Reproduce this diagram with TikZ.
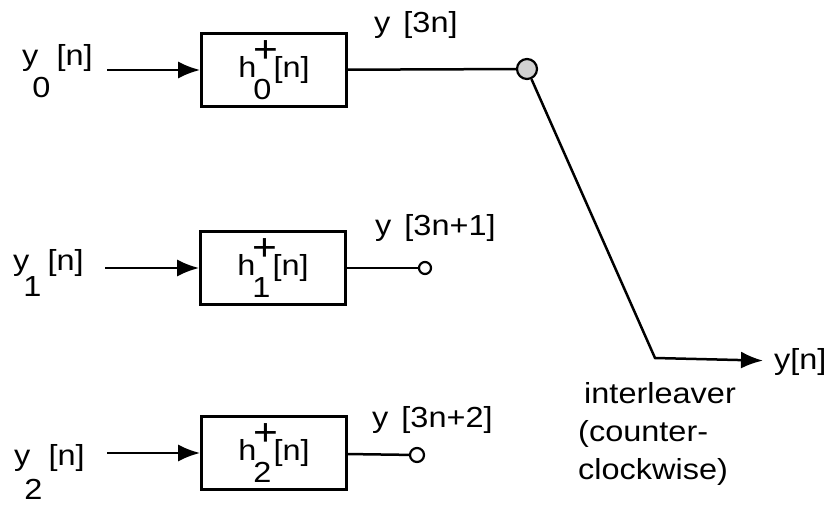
\documentclass[tikz,border=0pt]{standalone}
\usepackage{fontspec}
\newfontfamily\labfont{Liberation Sans}[FakeStretch=1.12]
\usetikzlibrary{arrows.meta,positioning,calc}

% 入力ラベル y_k[n] と フィルタ h^+_k[n]
\newcommand{\ylab}[2]{y\kern-6pt\raisebox{-#2}{#1}\kern6pt[n]}
\newcommand{\hlab}[1]{h\kern-3pt\rlap{\raisebox{15pt}{\fontsize{38}{38}\selectfont+}}\raisebox{-22pt}{#1}\kern2pt[n]}

\begin{document}
\begin{tikzpicture}[x=1pt,y=-1pt,
  lab/.style={font=\labfont\fontsize{29}{38}\selectfont,inner sep=0pt},
  filt/.style={draw,line width=2.7pt,minimum width=145pt,minimum height=73pt,inner sep=0pt,lab},
  tap/.style={circle,draw,line width=2.2pt,fill=white,inner sep=0pt,minimum size=12pt},
  sig/.style={line width=2.5pt},
  arr/.style={sig,-{Latex[length=22pt,width=17pt]}}]
  \path[fill=white] (0,0) rectangle (832,508);
  % 上段：y_0[n]
  \node[filt] (box0) at (274,70) {\hlab{0}};
  \node[lab,anchor=base west] (lab0) at (22,66) {\ylab{0}{32pt}};
  \coordinate (in0) at (107,70);
  \draw[arr] (in0) -- (box0);
  \node[tap,minimum size=20pt,fill=black!18] (sw0) at (527,69) {};
  \node[lab,anchor=base west] (out0) at (374,33) {y\hspace{13pt}[3n]};
  \draw[sig] (box0) -- (sw0);
  % 中段：y_1[n]
  \node[filt] (box1) at (273,268) {\hlab{1}};
  \node[lab,anchor=base west] (lab1) at (13,270) {\ylab{1}{26pt}};
  \coordinate (in1) at (105,268);
  \draw[arr] (in1) -- (box1);
  \node[tap] (sw1) at (425,268) {};
  \node[lab,anchor=base west] (out1) at (375,235) {y\hspace{13pt}[3n+1]};
  \draw[sig] (box1) -- (sw1);
  % 下段：y_2[n]
  \node[filt] (box2) at (274,453) {\hlab{2}};
  \node[lab,anchor=base west] (lab2) at (14,465) {\ylab{2}{34pt}};
  \coordinate (in2) at (107,453);
  \draw[arr] (in2) -- (box2);
  \node[tap,minimum size=14pt] (sw2) at (417,455) {};
  \node[lab,anchor=base west] (out2) at (372,427) {y\hspace{13pt}[3n+2]};
  \draw[sig] (box2) -- (sw2);
  % インターリーバ(スイッチ)
  \coordinate (knee) at (655,358);
  \node[lab,anchor=base west,outer xsep=11pt] (yout) at (763,369) {y[n]};
  \draw[arr] (sw0) -- (knee) -- (yout);
  \node[lab,anchor=north west,align=left] (ilv) at (578,382)
    {\hspace*{6pt}interleaver\\(counter-\\clockwise)};
\end{tikzpicture}
\end{document}
